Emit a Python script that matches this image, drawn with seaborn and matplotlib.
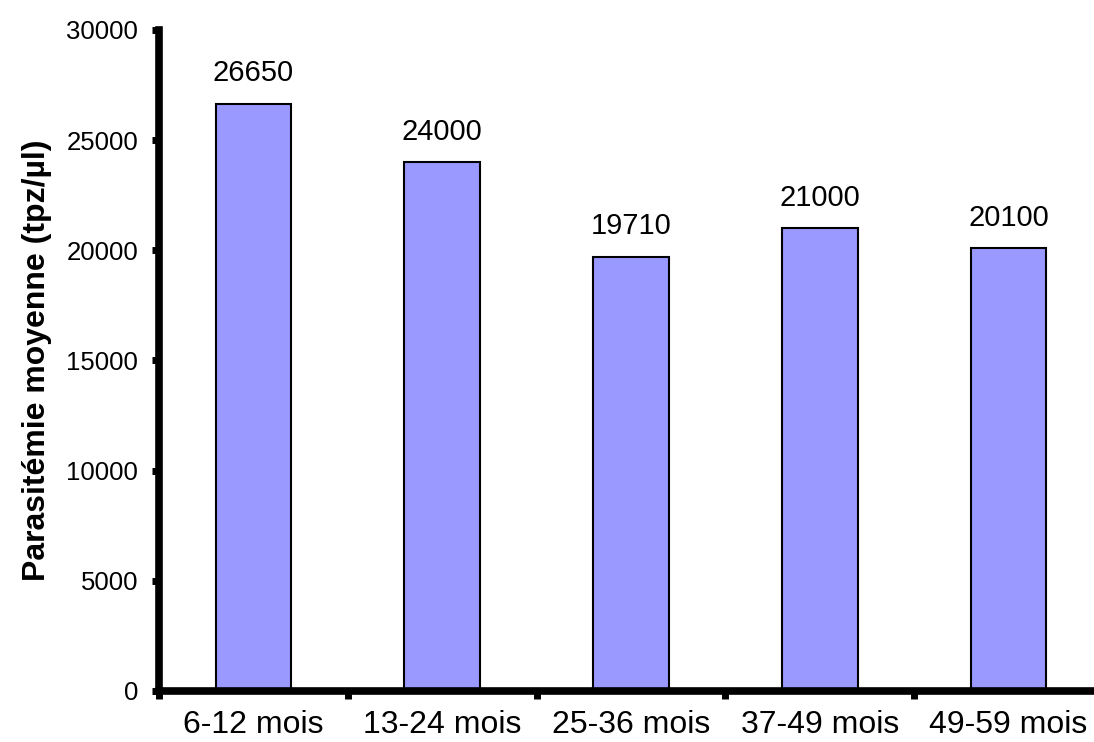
import numpy as np
import pandas as pd
import seaborn as sns
import matplotlib.pyplot as plt
from matplotlib.ticker import FixedLocator

# data
categories = ["6-12 mois", "13-24 mois", "25-36 mois", "37-49 mois", "49-59 mois"]
values = [26650, 24000, 19710, 21000, 20100]
y_ticks = [0, 5000, 10000, 15000, 20000, 25000, 30000]

df = pd.DataFrame({"age": categories, "parasitemie": values})

sns.set_theme(style="white")
plt.rcParams["font.family"] = ["Liberation Sans", "DejaVu Sans"]

fig = plt.figure(figsize=(10.94, 7.42), dpi=100)
ax = fig.add_axes([159 / 1094, 1 - 691 / 742, 944 / 1094, 661 / 742])

sns.barplot(data=df, x="age", y="parasitemie", color="#9999FF", saturation=1,
            width=0.4, edgecolor="black", linewidth=1.5, ax=ax)

for i, v in enumerate(values):
    ax.text(i, v + 750, str(v), ha="center", va="bottom", fontsize=21, color="black")

ax.set_xlim(-0.5, len(categories) - 0.5)
ax.set_ylim(0, 30000)
ax.set_yticks(y_ticks)
ax.set_yticklabels([str(t) for t in y_ticks], fontsize=18.5)
ax.set_xlabel("")
ax.set_ylabel("Parasitémie moyenne (tpz/µl)", fontsize=23, fontweight="bold",
              labelpad=10, color="black")

for side in ["top", "right"]:
    ax.spines[side].set_visible(False)
for side in ["left", "bottom"]:
    ax.spines[side].set_linewidth(5.5)
    ax.spines[side].set_color("black")
    ax.spines[side].set_capstyle("projecting")

# category labels without ticks, tick marks at category boundaries
ax.tick_params(axis="x", which="major", bottom=True, length=0, labelsize=23, pad=14, colors="black")
ax.xaxis.set_minor_locator(FixedLocator(np.arange(-0.5, len(categories), 1.0)))
ax.tick_params(axis="x", which="minor", bottom=True, length=6, width=5, direction="out", color="black")
ax.tick_params(axis="y", which="major", left=True, length=5, width=5, direction="out", color="black",
               labelcolor="black", pad=10)

fig.savefig("out.png", dpi=100)
